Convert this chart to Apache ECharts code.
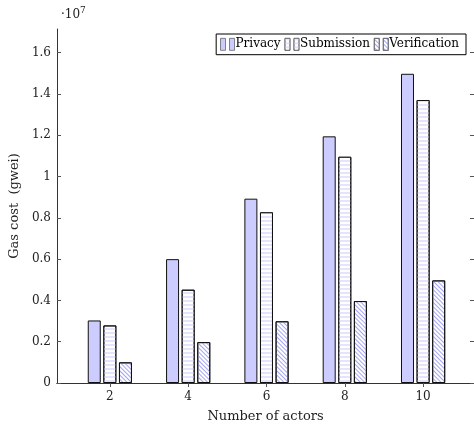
<!DOCTYPE html>
<html>
<head>
<meta charset="utf-8">
<script src="https://cdn.jsdelivr.net/npm/echarts@6/dist/echarts.min.js"></script>
<style>
  html, body { margin: 0; padding: 0; background: #fff; }
  #chart { width: 474px; height: 429px; }
</style>
</head>
<body>
<div id="chart"></div>
<script>
// number of actors on the x axis
const actors = [2, 4, 6, 8, 10]
// gas cost in gwei
const privacy = [3.03e6, 6.0e6, 8.93e6, 11.95e6, 14.98e6]
const submission = [2.79e6, 4.52e6, 8.27e6, 10.96e6, 13.71e6]
const verification = [1.0e6, 1.98e6, 2.99e6, 3.97e6, 4.97e6]
const yTicks = [0, 0.2e7, 0.4e7, 0.6e7, 0.8e7, 1.0e7, 1.2e7, 1.4e7, 1.6e7]

const font = 'DejaVu Serif'
const pairs = (vals) => actors.map((a, i) => [a, vals[i]])
// two little bars, like the pgfplots legend image
const legendIcon = 'path://M0,0 h5 v12 h-5 Z M9,0 h5 v12 h-5 Z'

const chart = echarts.init(document.getElementById('chart'))

const tickStyle = { show: true, inside: true, length: 4, lineStyle: { color: '#555' } }

const option = {
  animation: false,
  textStyle: { fontFamily: font },
  grid: { left: 57, top: 29, right: -2, bottom: 46 },
  legend: {
    right: 8,
    top: 34,
    orient: 'horizontal',
    borderColor: '#000',
    borderWidth: 1,
    padding: [4, 7, 4, 4],
    itemGap: 4,
    itemWidth: 14,
    itemHeight: 12,
    icon: legendIcon,
    itemStyle: { borderColor: '#555', borderWidth: 0.7 },
    textStyle: { fontFamily: font, fontSize: 12, color: '#000', padding: [0, 0, 0, -4] },
    data: ['Privacy', 'Submission', 'Verification']
  },
  graphic: [
    {
      type: 'text',
      left: 61,
      top: 6,
      style: {
        text: '·10{s|7}',
        fontFamily: font,
        fontSize: 12,
        fill: '#222',
        rich: { s: { fontSize: 9, verticalAlign: 'top', padding: [0, 0, 8, 0], fontFamily: font } }
      }
    }
  ],
  xAxis: [
    {
      type: 'value',
      min: 0.65,
      max: 11.3,
      name: 'Number of actors',
      nameLocation: 'middle',
      nameGap: 27,
      nameTextStyle: { fontFamily: font, fontSize: 13, color: '#222' },
      axisLine: { lineStyle: { color: '#333', width: 1 } },
      axisTick: Object.assign({ customValues: actors }, tickStyle),
      axisLabel: { customValues: actors, fontFamily: font, fontSize: 12, color: '#222', margin: 8 },
      splitLine: { show: false }
    },
    {
      type: 'value',
      position: 'top',
      min: 0.65,
      max: 11.3,
      axisLine: { show: true, lineStyle: { color: '#333', width: 1 } },
      axisTick: Object.assign({ customValues: actors }, tickStyle),
      axisLabel: { show: false },
      splitLine: { show: false }
    }
  ],
  yAxis: [
    {
      type: 'value',
      min: 0,
      max: 1.715e7,
      name: 'Gas cost  (gwei)',
      nameLocation: 'middle',
      nameGap: 35,
      nameTextStyle: { fontFamily: font, fontSize: 13, color: '#222' },
      axisLine: { show: true, lineStyle: { color: '#333', width: 1 } },
      axisTick: Object.assign({ customValues: yTicks }, tickStyle),
      axisLabel: {
        customValues: yTicks,
        fontFamily: font,
        fontSize: 12,
        color: '#222',
        margin: 6,
        formatter: (v) => String(parseFloat((v / 1e7).toFixed(1)))
      },
      splitLine: { show: false }
    },
    {
      type: 'value',
      position: 'right',
      min: 0,
      max: 1.715e7,
      axisLine: { show: true, lineStyle: { color: '#333', width: 1 } },
      axisTick: Object.assign({ customValues: yTicks }, tickStyle),
      axisLabel: { show: false },
      splitLine: { show: false }
    }
  ],
  series: [
    {
      name: 'Privacy',
      type: 'bar',
      data: pairs(privacy),
      barWidth: 13,
      barGap: '20%',
      itemStyle: { color: '#ccccff', borderColor: '#111', borderWidth: 1 }
    },
    {
      name: 'Submission',
      type: 'bar',
      data: pairs(submission),
      barWidth: 13,
      barGap: '20%',
      itemStyle: {
        color: '#ffffff',
        borderColor: '#111',
        borderWidth: 1,
        decal: {
          symbol: 'rect',
          symbolSize: 1,
          color: '#e4e4fc',
          dashArrayX: [1, 0],
          dashArrayY: [2, 2],
          rotation: 0
        }
      }
    },
    {
      name: 'Verification',
      type: 'bar',
      data: pairs(verification),
      barWidth: 13,
      barGap: '20%',
      itemStyle: {
        color: '#ffffff',
        borderColor: '#111',
        borderWidth: 1,
        decal: {
          symbol: 'rect',
          symbolSize: 1,
          color: '#a4a4f4',
          dashArrayX: [1, 0],
          dashArrayY: [1, 1.6],
          rotation: Math.PI / 4
        }
      }
    }
  ]
}

chart.setOption(option)
</script>
</body>
</html>
